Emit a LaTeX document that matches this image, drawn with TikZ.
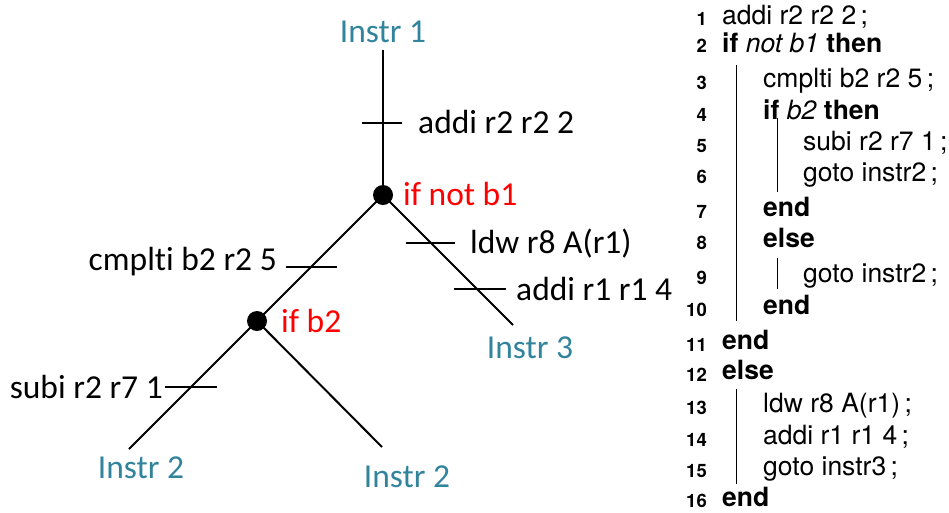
\documentclass[tikz,border=0pt]{standalone}
\usepackage{fontspec}
\setmainfont{TeX Gyre Heros}
\newfontfamily\calib[Ligatures=NoCommon]{Carlito}
\definecolor{instr}{HTML}{31849B}
\begin{document}
\begin{tikzpicture}[x=1pt,y=-1pt,
  treeline/.style={line width=2pt},
  tickline/.style={line width=1.8pt},
  dot/.style={circle,fill=black,inner sep=0pt,minimum size=20pt},
  tlabel/.style={font=\calib\fontsize{33.5}{40}\selectfont,inner sep=0pt},
  ilabel/.style={tlabel,text=instr,anchor=base},
  clabel/.style={tlabel,text=red,anchor=base west},
  code/.style={font=\fontsize{26.5}{30}\selectfont,inner sep=0pt,anchor=base west},
  lno/.style={font=\fontsize{18.5}{20}\selectfont\bfseries,inner sep=0pt,anchor=base east},
  bar/.style={line width=1pt}]
\useasboundingbox (0,0) rectangle (949,512);

% ---------- tree ----------
\coordinate (t1) at (383,50);
\coordinate (e3) at (513,325);
\coordinate (e2a) at (129,449);
\coordinate (e2b) at (382,447);
\node[dot] (n1) at (383,195) {};
\node[dot] (n2) at (257,321) {};
\draw[treeline] (t1) -- (n1.center);
\draw[treeline] (n1.center) -- (n2.center);
\draw[treeline] (n1.center) -- (e3);
\draw[treeline] (n2.center) -- (e2a);
\draw[treeline] (n2.center) -- (e2b);

\coordinate (ta) at (382,123);
\coordinate (tb) at (311,267);
\coordinate (tc) at (191,387);
\coordinate (td) at (430,243);
\coordinate (te) at (480,289);
\draw[tickline] ([xshift=-20pt]ta) -- ([xshift=20pt]ta);
\draw[tickline] ([xshift=-25.5pt]tb) -- ([xshift=25.5pt]tb);
\draw[tickline] ([xshift=-26pt]tc) -- ([xshift=26pt]tc);
\draw[tickline] ([xshift=-24.5pt]td) -- ([xshift=24.5pt]td);
\draw[tickline] ([xshift=-26pt]te) -- ([xshift=26pt]te);

\node[ilabel] (i1) at (383,42) {Instr 1};
\node[ilabel] (i3) at (530,358) {Instr 3};
\node[ilabel] (i2a) at (141,478) {Instr 2};
\node[ilabel] (i2b) at (407,487) {Instr 2};
\node[clabel] (c1) at (403,205) {if not b1};
\node[clabel] (c2) at (281,332) {if b2};
\node[tlabel,anchor=base west] (la) at (418,133) {addi r2 r2 2};
\node[tlabel,anchor=base east] (lb) at (277,270) {cmplti b2 r2 5};
\node[tlabel,anchor=base east] (lc) at (163,398) {subi r2 r7 1};
\node[tlabel,anchor=base west] (ld) at (470,253) {ldw r8 A(r1)};
\node[tlabel,anchor=base west] (le) at (516,300) {addi r1 r1 4};

% ---------- algorithm ----------
\node[lno] (n01) at (707,25) {1};
\node[lno] (n02) at (707,52) {2};
\node[lno] (n03) at (707,89) {3};
\node[lno] (n04) at (707,121) {4};
\node[lno] (n05) at (707,152) {5};
\node[lno] (n06) at (707,183) {6};
\node[lno] (n07) at (707,218) {7};
\node[lno] (n08) at (707,249) {8};
\node[lno] (n09) at (707,284) {9};
\node[lno] (n10) at (707,316) {10};
\node[lno] (n11) at (707,351) {11};
\node[lno] (n12) at (707,381) {12};
\node[lno] (n13) at (707,414) {13};
\node[lno] (n14) at (707,446) {14};
\node[lno] (n15) at (707,477) {15};
\node[lno] (n16) at (707,507) {16};

\node[code] (a01) at (722,24) {addi r2 r2 2\,;};
\node[code] (a02) at (722,52) {\textbf{if} \textit{not b1} \textbf{then}};
\node[code] (a03) at (763,87) {cmplti b2 r2 5\,;};
\node[code] (a04) at (763,119) {\textbf{if} \textit{b2} \textbf{then}};
\node[code] (a05) at (803,150) {subi r2 r7 1\,;};
\node[code] (a06) at (803,181) {goto instr2\,;};
\node[code] (a07) at (763,216) {\textbf{end}};
\node[code] (a08) at (763,247) {\textbf{else}};
\node[code] (a09) at (803,282) {goto instr2\,;};
\node[code] (a10) at (763,314) {\textbf{end}};
\node[code] (a11) at (722,349) {\textbf{end}};
\node[code] (a12) at (722,379) {\textbf{else}};
\node[code] (a13) at (763,412) {ldw r8 A(r1)\,;};
\node[code] (a14) at (763,444) {addi r1 r1 4\,;};
\node[code] (a15) at (763,475) {goto instr3\,;};
\node[code] (a16) at (722,506) {\textbf{end}};

\draw[bar] (736,65) -- (736,321);
\draw[bar] (777,118) -- (777,192);
\draw[bar] (777,258) -- (777,289);
\draw[bar] (736,389) -- (736,484);
\end{tikzpicture}
\end{document}
